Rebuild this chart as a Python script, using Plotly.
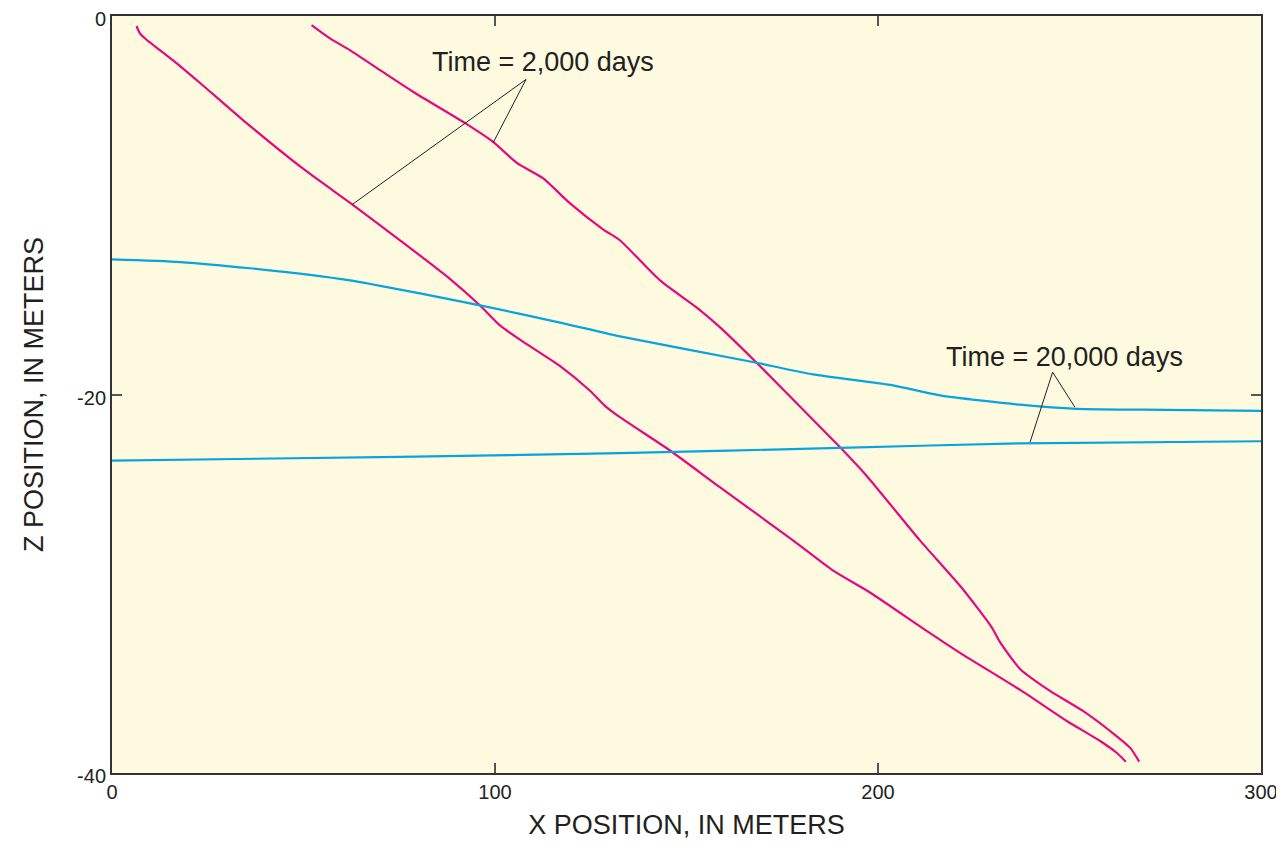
import plotly.graph_objects as go

# ---- data (x position m, z position m) ----
mag1_x = [6.4, 7.3, 9.1, 12.5, 16.9, 23.0, 34.2, 50.4, 62.7, 75.2, 88.3, 96.1, 101.3, 106.5, 117.0,
          124.8, 128.7, 132.6, 145.7, 158.7, 177.9, 188.3, 197.9, 212.7, 221.4, 237.5, 249.3, 258.0,
          262.3, 264.7]
mag1_z = [-0.53, -0.92, -1.27, -1.8, -2.5, -3.54, -5.5, -8.15, -9.95, -11.85, -13.9, -15.3, -16.35,
          -17.1, -18.5, -19.8, -20.6, -21.2, -22.96, -24.9, -27.72, -29.31, -30.46, -32.49, -33.65,
          -35.66, -37.25, -38.31, -38.93, -39.4]

mag2_x = [52.1, 56.9, 62.1, 70.0, 78.6, 92.2, 99.5, 105.7, 112.5, 119.6, 128.2, 132.6, 143.1, 152.7,
          158.7, 168.3, 190.1, 197.0, 211.0, 221.8, 229.7, 231.9, 237.1, 244.9, 253.5, 260.6, 265.8,
          268.2]
mag2_z = [-0.48, -1.18, -1.8, -2.86, -4.0, -5.66, -6.65, -7.76, -8.57, -9.9, -11.27, -11.85, -13.97,
          -15.41, -16.44, -18.32, -22.79, -24.29, -27.72, -30.2, -32.3, -33.1, -34.5, -35.66, -36.72,
          -37.78, -38.66, -39.4]

blue1_x = [0, 17.8, 36.0, 62.1, 80.4, 96.1, 117.0, 132.6, 168.3, 183.0, 203.9, 216.2, 237.1, 251.9,
           275.0, 300.0]
blue1_z = [-12.86, -13.0, -13.33, -13.97, -14.66, -15.29, -16.2, -16.93, -18.32, -18.94, -19.52,
           -20.05, -20.54, -20.76, -20.81, -20.86]

blue2_x = [0, 75.0, 132.6, 190.1, 237.1, 300.0]
blue2_z = [-23.49, -23.3, -23.1, -22.82, -22.58, -22.47]

# annotation labels and leader lines
label_text = ["Time = 2,000 days", "Time = 20,000 days"]
label_x = [112.5, 248.8]
label_z = [-2.43, -18.03]
leader1_x = [62.8, 108.1, 99.5]
leader1_z = [-9.95, -3.35, -6.7]
leader2_x = [239.7, 245.6, 251.4]
leader2_z = [-22.52, -18.82, -20.67]

x_ticks = [0, 100, 200, 300]
z_ticks = [-40, -20, 0]

MAGENTA = "#E6087F"
BLUE = "#08A4E0"
FONT = "Liberation Sans, Arial, sans-serif"
TXT = "#231F20"

fig = go.Figure()
for xs, zs, c in [(mag1_x, mag1_z, MAGENTA), (mag2_x, mag2_z, MAGENTA),
                  (blue1_x, blue1_z, BLUE), (blue2_x, blue2_z, BLUE)]:
    fig.add_trace(go.Scatter(x=xs, y=zs, mode="lines",
                             line=dict(color=c, width=2.2, shape="spline", smoothing=0.6),
                             hoverinfo="skip", showlegend=False))
for xs, zs in [(leader1_x, leader1_z), (leader2_x, leader2_z)]:
    fig.add_trace(go.Scatter(x=xs, y=zs, mode="lines", line=dict(color=TXT, width=1),
                             hoverinfo="skip", showlegend=False))

for t, x, z in zip(label_text, label_x, label_z):
    fig.add_annotation(x=x, y=z, text=t, showarrow=False, xanchor="center", yanchor="middle",
                       font=dict(family=FONT, size=27, color=TXT))

axis_common = dict(showgrid=False, zeroline=False, showline=True, linecolor="#333333", linewidth=2,
                   mirror="ticks", ticks="inside", ticklen=10, tickwidth=1.5, tickcolor="#555555",
                   automargin=False, ticklabeloverflow="allow",
                   tickfont=dict(family=FONT, size=20, color=TXT))

# page body adds an 8px margin, so the figure is sized/margined to fit the 1284x848 window
fig.update_layout(
    width=1276, height=832,
    margin=dict(l=104, r=23, t=8, b=67),
    paper_bgcolor="white",
    plot_bgcolor="#FEFADF",
    showlegend=False,
    xaxis=dict(range=[0, 300], tickvals=x_ticks, ticktext=[str(v) for v in x_ticks],
               title=dict(text="X POSITION, IN METERS", font=dict(family=FONT, size=27, color=TXT),
                          standoff=23),
               **axis_common),
    yaxis=dict(range=[-40, 0], tickvals=z_ticks, ticktext=[str(v) for v in z_ticks],
               ticklabelshift=3,
               title=dict(text="Z POSITION, IN METERS", font=dict(family=FONT, size=27, color=TXT),
                          standoff=26),
               **axis_common),
)

fig.write_html("out.html")
